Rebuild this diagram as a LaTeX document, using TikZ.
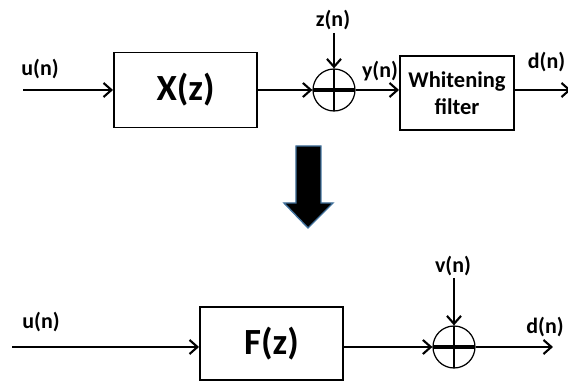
\documentclass[tikz,border=0pt]{standalone}
\usepackage{fontspec}
\setmainfont{Carlito}
\definecolor{arrowblue}{RGB}{65,113,156}
\usetikzlibrary{arrows.meta, positioning, calc}

\begin{document}
\begin{tikzpicture}[every node/.style={font=\bfseries\fontsize{12.5}{15}\selectfont},
  blk/.style={draw, line width=1.1pt, inner sep=0pt},
  bigtxt/.style={font=\bfseries\fontsize{21}{24}\selectfont},
  sumnode/.style={draw, circle, minimum size=0.84cm, inner sep=0pt, line width=0.7pt,
    path picture={
      \draw[line width=2pt] (path picture bounding box.west) -- (path picture bounding box.east);
      \draw[line width=1.5pt] (path picture bounding box.north) -- (path picture bounding box.south);}},
  sig/.style={line width=1.2pt, -{Straight Barb[length=4.5pt, width=8pt]}}]
\useasboundingbox (0,0) rectangle (11.36,7.62);
% Upper chain
\coordinate (in1) at (0.46,5.82);
\node (u1) at (0.80,6.23) {u(n)};
\node[blk, bigtxt, minimum width=2.86cm, minimum height=1.5cm] (xz) at (3.71,5.82) {X(z)};
\node[sumnode] (s1) at (6.68,5.82) {};
\coordinate (zin) at (6.68,6.96);
\node (zn) at (6.66,7.22) {z(n)};
\node[blk, minimum width=2.28cm, minimum height=1.48cm, align=center,
      font=\bfseries\fontsize{12.8}{15.5}\selectfont] (wf) at (9.14,5.76) {Whitening\\filter};
\node (yn) at (7.60,6.20) {y(n)};
\coordinate (out1) at (11.42,5.82);
\node (dn1) at (10.93,6.38) {d(n)};
\draw[sig] (in1) -- (in1 -| xz.west);
\draw[sig] (xz.east) -- (s1.west);
\draw[sig] (zin) -- (s1.north);
\draw[sig] (s1.east) -- (s1.east -| wf.west);
\draw[sig] (wf.east |- s1) -- (out1);
% Block arrow
\draw[draw=arrowblue, fill=black, line width=0.8pt] (5.92,4.70) -- (6.42,4.70) -- (6.42,3.56)
  -- (6.66,3.56) -- (6.16,3.06) -- (5.68,3.56) -- (5.92,3.56) -- cycle;
% Lower chain
\coordinate (in2) at (0.24,0.68);
\node (u2) at (0.82,1.18) {u(n)};
\node[blk, bigtxt, minimum width=2.86cm, minimum height=1.46cm] (fz) at (5.43,0.75) {F(z)};
\node[sumnode] (s2) at (9.08,0.68) {};
\coordinate (vin) at (9.08,2.06);
\node (vn) at (9.06,2.30) {v(n)};
\coordinate (out2) at (11.06,0.68);
\node (dn2) at (10.90,1.08) {d(n)};
\draw[sig] (in2) -- (in2 -| fz.west);
\draw[sig] (fz.east |- s2) -- (s2.west);
\draw[sig] (vin) -- (s2.north);
\draw[sig] (s2.east) -- (out2);
\end{tikzpicture}
\end{document}
